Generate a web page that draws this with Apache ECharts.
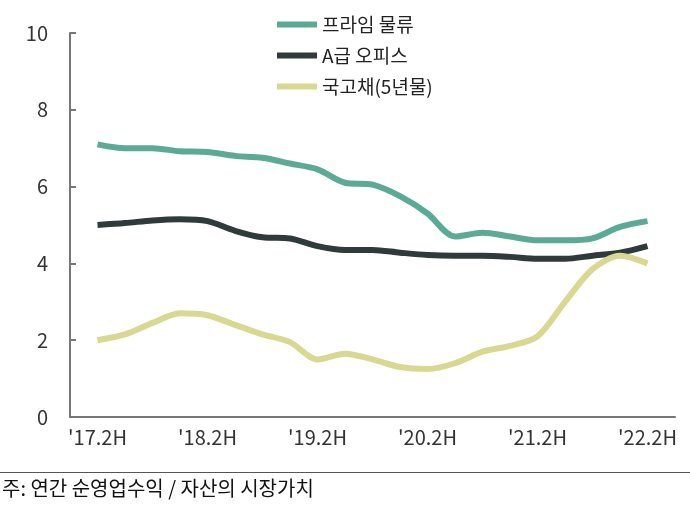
<!DOCTYPE html><html><head><meta charset="utf-8"><script src="https://cdn.jsdelivr.net/npm/echarts@6/dist/echarts.min.js"></script></head><body style="margin:0;background:#fff"><div id="c" style="width:690px;height:514px"></div><script>
var categories=["'17.2H","'18.1H","'18.2H","'19.1H","'19.2H","'20.1H","'20.2H","'21.1H","'21.2H","'22.1H","'22.2H"];
var xPos=[0.5,1,1.5,2,2.5,3,3.5,4,4.5,5,5.5,6,6.5,7,7.5,8,8.5,9,9.5,10,10.5];
var prime=[7.1,7.0,7.0,6.92,6.9,6.8,6.75,6.6,6.45,6.1,6.05,5.75,5.3,4.7,4.8,4.7,4.6,4.6,4.65,4.95,5.1];
var office=[5.0,5.05,5.12,5.15,5.1,4.85,4.68,4.65,4.45,4.35,4.35,4.28,4.22,4.2,4.2,4.17,4.12,4.12,4.2,4.28,4.45];
var bond=[2.0,2.15,2.45,2.7,2.65,2.4,2.15,1.95,1.5,1.65,1.5,1.3,1.25,1.4,1.7,1.85,2.1,3.0,3.85,4.2,4.0];
var names=['프라임 물류','A급 오피스','국고채(5년물)'];
var colors=['#5aaa96','#2f3a3a','#d8d891'];
function pts(a){return a.map(function(v,i){return [xPos[i],v];});}
var F='Noto Sans CJK KR';
var ch=echarts.init(document.getElementById('c'));
ch.setOption({
 textStyle:{fontFamily:F},
 legend:{orient:'vertical',left:272,top:10,itemGap:12,itemWidth:40,itemHeight:6,icon:'rect',textStyle:{fontSize:19,color:'#222',fontFamily:F},data:names},
 grid:{left:70,right:15,top:33,bottom:97},
 xAxis:[{type:'category',data:categories,boundaryGap:true,axisLine:{lineStyle:{color:'#777',width:2}},axisTick:{length:10,lineStyle:{color:'#777',width:2}},axisLabel:{interval:1,fontSize:20,color:'#333',margin:10}},
        {type:'value',min:0,max:11,show:false}],
 yAxis:{type:'value',min:0,max:10,interval:2,splitLine:{show:false},axisLine:{show:true,lineStyle:{color:'#777',width:2}},axisTick:{show:true,inside:true,length:6,lineStyle:{color:'#777',width:2}},axisLabel:{fontSize:20,color:'#333',margin:22}},
 series:names.map(function(n,i){return {name:n,type:'line',xAxisIndex:1,smooth:0.3,symbol:'none',data:pts([prime,office,bond][i]),lineStyle:{width:6,color:colors[i]},itemStyle:{color:colors[i]}};}),
 graphic:[{type:'text',left:2,top:478,style:{text:'주: 연간 순영업수익 / 자산의 시장가치',font:'20px "Noto Sans CJK KR"',fill:'#111'}},
   {type:'rect',shape:{x:0,y:472,width:690,height:1},style:{fill:'#555'}}]
});
</script></body></html>
